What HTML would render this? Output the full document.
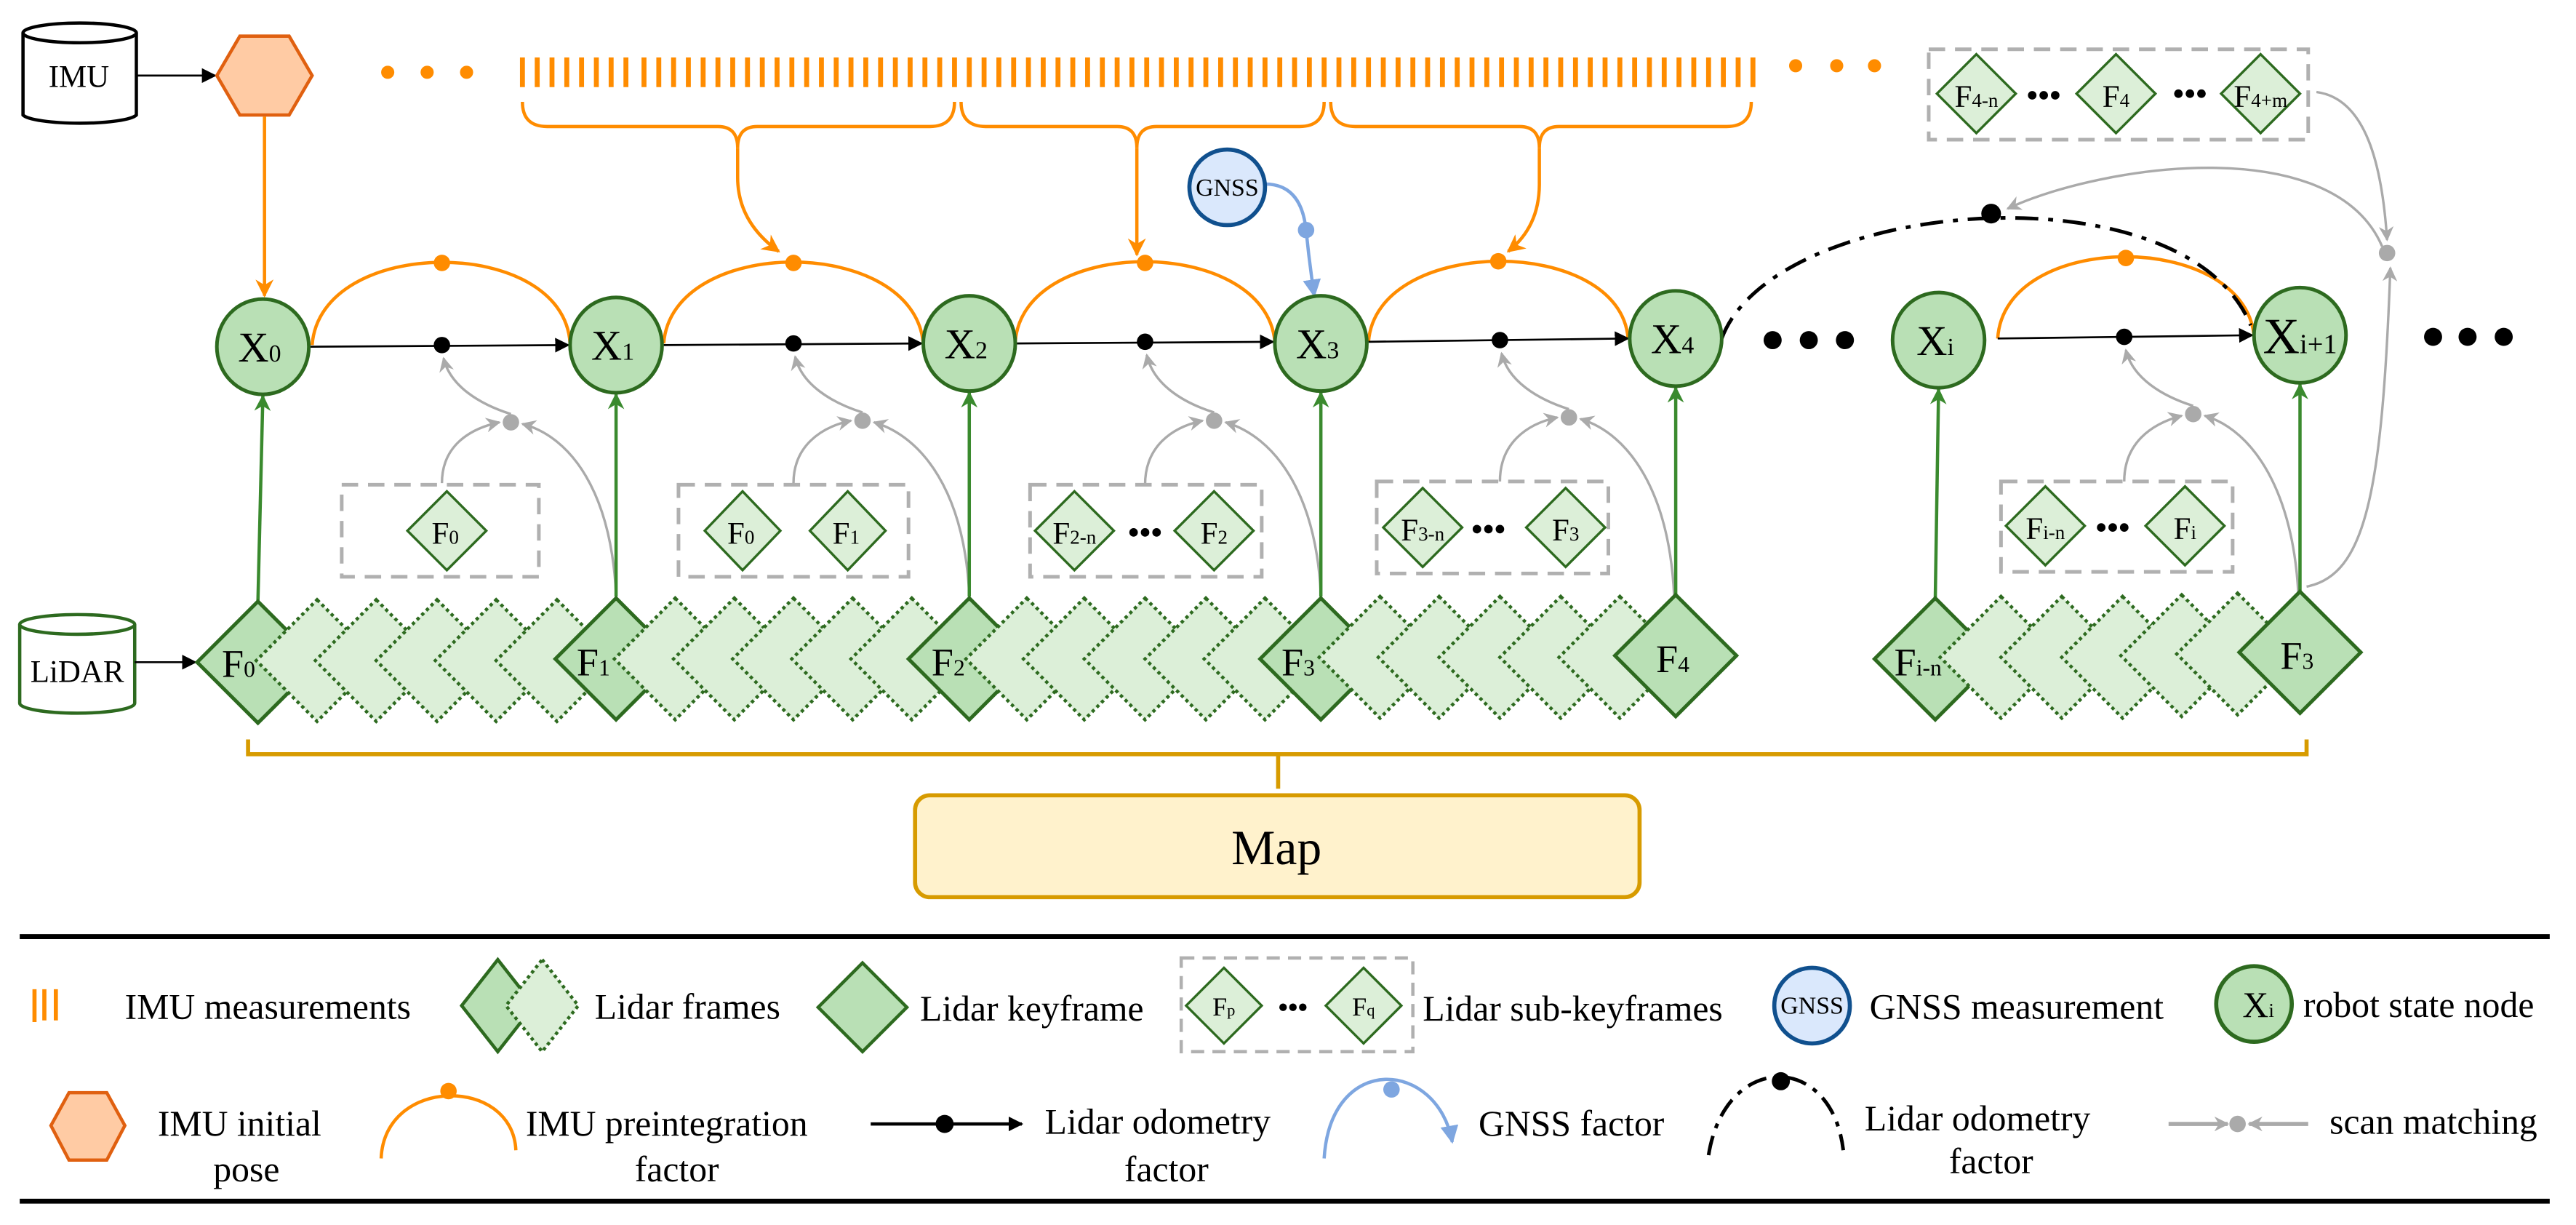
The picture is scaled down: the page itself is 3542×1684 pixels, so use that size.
<!DOCTYPE html>
<html><head><meta charset="utf-8"><style>
html,body{margin:0;padding:0;background:#fff;}
svg{display:block;}
svg text{font-family:"Liberation Serif","DejaVu Serif",serif !important;fill:#000;}
</style></head><body>
<svg width="3542" height="1684" viewBox="0 0 1568 745.5" preserveAspectRatio="none" xmlns="http://www.w3.org/2000/svg" font-family="Liberation Serif, DejaVu Serif, serif">
<defs>
<marker id="ab" viewBox="0 0 10 10" refX="9" refY="5" markerWidth="9" markerHeight="9" markerUnits="userSpaceOnUse" orient="auto"><path d="M0,0 L10,5 L0,10 z" fill="#000"/></marker>
<marker id="ag" viewBox="0 0 10 10" refX="9" refY="5" markerWidth="9" markerHeight="9" markerUnits="userSpaceOnUse" orient="auto"><path d="M0,0 L10,5 L0,10 L3,5 z" fill="#aaa"/></marker>
<marker id="agr" viewBox="0 0 10 10" refX="9" refY="5" markerWidth="10" markerHeight="10" markerUnits="userSpaceOnUse" orient="auto"><path d="M0,0 L10,5 L0,10 L3,5 z" fill="#3a8a2e"/></marker>
<marker id="ao" viewBox="0 0 10 10" refX="9" refY="5" markerWidth="11" markerHeight="11" markerUnits="userSpaceOnUse" orient="auto"><path d="M0,0 L10,5 L0,10 L3,5 z" fill="#ff8c00"/></marker>
<marker id="abl" viewBox="0 0 10 10" refX="9" refY="5" markerWidth="11" markerHeight="11" markerUnits="userSpaceOnUse" orient="auto"><path d="M0,0 L10,5 L0,10 z" fill="#7ea6e0"/></marker>
</defs>

<path d="M14,20 L14,70 A35,6 0 0 0 83,70 L83,20" fill="#fff" stroke="#000" stroke-width="2"/>
<ellipse cx="48.5" cy="20" rx="34.5" ry="6" fill="#fff" stroke="#000" stroke-width="2"/>
<text x="48" y="53" font-size="19" text-anchor="middle">IMU</text>
<line x1="83" y1="46" x2="131" y2="46" stroke="#000" stroke-width="1.2" marker-end="url(#ab)"/>
<polygon points="132,46 146,22 176,22 190,46 176,70 146,70" fill="#ffcba4" stroke="#e06010" stroke-width="2"/>
<line x1="161" y1="71" x2="161" y2="180" stroke="#ff8c00" stroke-width="2" marker-end="url(#ao)"/>

<g fill="#ff8c00"><circle cx="236" cy="44" r="4"/><circle cx="260" cy="44" r="4"/><circle cx="284" cy="44" r="4"/>
<circle cx="1093" cy="40" r="4"/><circle cx="1118" cy="40" r="4"/><circle cx="1141" cy="40" r="4"/></g>
<g stroke="#ff8c00" stroke-width="3">
<path d="M318,35v18M327,35v18M336,35v18M345,35v18M354,35v18M363,35v18M372,35v18M381,35v18M392,35v18M401,35v18M410,35v18M419,35v18M428,35v18M437,35v18M446,35v18M455,35v18M464,35v18M473,35v18M482,35v18M491,35v18M500,35v18M509,35v18M518,35v18M527,35v18M536,35v18M545,35v18M554,35v18M563,35v18M572,35v18M581,35v18M590,35v18M599,35v18M608,35v18M617,35v18M626,35v18M635,35v18M644,35v18M653,35v18M662,35v18M671,35v18M680,35v18M689,35v18M698,35v18M707,35v18M716,35v18M725,35v18M734,35v18M743,35v18M752,35v18M761,35v18M770,35v18M779,35v18M788,35v18M797,35v18M806,35v18M815,35v18M824,35v18M833,35v18M842,35v18M851,35v18M860,35v18M869,35v18M878,35v18M887,35v18M896,35v18M905,35v18M914,35v18M923,35v18M932,35v18M941,35v18M950,35v18M959,35v18M968,35v18M977,35v18M986,35v18M995,35v18M1004,35v18M1013,35v18M1022,35v18M1031,35v18M1040,35v18M1049,35v18M1058,35v18M1067,35v18"/>
</g>
<g fill="none" stroke="#ff8c00" stroke-width="2">
<path d="M318,62 Q318,77 333,77 L437,77 Q449,77 449,90 Q449,77 461,77 L566,77 Q581,77 581,62"/>
<path d="M449,90 L449,108 Q449,135 474,153" marker-end="url(#ao)"/>
<path d="M585,62 Q585,77 600,77 L680,77 Q692,77 692,90 Q692,77 704,77 L791,77 Q806,77 806,62"/>
<path d="M692,90 L692,155" marker-end="url(#ao)"/>
<path d="M810,62 Q810,77 825,77 L925,77 Q937,77 937,90 Q937,77 949,77 L1051,77 Q1066,77 1066,62"/>
<path d="M937,90 L937,112 Q937,138 918,153" marker-end="url(#ao)"/>
</g>

<path d="M770,112 Q792,112 795,140 Q797,160 800,180" fill="none" stroke="#7ea6e0" stroke-width="2" marker-end="url(#abl)"/>
<circle cx="795" cy="140" r="5" fill="#7ea6e0"/>
<circle cx="747" cy="114" r="23" fill="#dae8fc" stroke="#10508e" stroke-width="2.5"/>
<text x="747" y="119" font-size="15" text-anchor="middle">GNSS</text>

<g fill="none" stroke="#ff8c00" stroke-width="2">
<path d="M190,210 C195,143 343,143 347,209"/>
<path d="M404,209 C409,143 556,143 562,209"/>
<path d="M618,208 C623,143 770,143 776,208"/>
<path d="M833,208 C838,143 986,143 991,206"/>
<path d="M1216,206 C1220,140 1365,140 1372,204"/>
</g>
<g fill="#ff8c00"><circle cx="269" cy="160" r="5"/><circle cx="483" cy="160" r="5"/><circle cx="697" cy="160" r="5"/><circle cx="912" cy="159" r="5"/><circle cx="1294" cy="157" r="5"/></g>

<path d="M1048,206 C1080,120 1330,100 1370,198" fill="none" stroke="#000" stroke-width="2.2" stroke-dasharray="14,6,3,6"/>
<circle cx="1212" cy="130" r="6" fill="#000"/>

<g stroke="#000" stroke-width="1.2" marker-end="url(#ab)">
<line x1="189" y1="211" x2="346" y2="210"/>
<line x1="404" y1="210" x2="561" y2="209"/>
<line x1="619" y1="209" x2="775" y2="208"/>
<line x1="833" y1="208" x2="991" y2="206"/>
<line x1="1216" y1="206" x2="1371" y2="204"/>
</g>
<g fill="#000"><circle cx="269" cy="210" r="5"/><circle cx="483" cy="209" r="5"/><circle cx="697" cy="208" r="5"/><circle cx="913" cy="207" r="5"/><circle cx="1293" cy="205" r="5"/></g>

<g fill="#000"><circle cx="1079" cy="207" r="5.5"/><circle cx="1101" cy="207" r="5.5"/><circle cx="1123" cy="207" r="5.5"/>
<circle cx="1481" cy="205" r="5.5"/><circle cx="1502" cy="205" r="5.5"/><circle cx="1524" cy="205" r="5.5"/></g>

<g fill="none" stroke="#aaa" stroke-width="1.5" marker-end="url(#ag)">
<path d="M311,252 C292,246 274,235 270,218"/>
<path d="M269,294 C269,272 285,261 304,257"/>
<path d="M375,362 C372,300 348,266 318,258"/>
<path d="M525,251 C506,245 488,234 484,217"/>
<path d="M483,294 C483,272 499,260 518,256"/>
<path d="M590,362 C587,300 562,266 532,257"/>
<path d="M739,251 C720,245 702,234 698,216"/>
<path d="M697,295 C697,272 713,260 732,256"/>
<path d="M804,362 C801,300 776,266 746,257"/>
<path d="M955,249 C936,243 918,232 914,215"/>
<path d="M913,293 C913,270 929,258 948,254"/>
<path d="M1019,362 C1016,300 992,264 962,255"/>
<path d="M1335,247 C1316,241 1298,230 1294,213"/>
<path d="M1293,293 C1293,270 1309,258 1328,253"/>
<path d="M1399,362 C1396,300 1372,262 1342,253"/>
<path d="M1410,56 C1440,60 1450,100 1453,146"/>
<path d="M1404,357 C1440,350 1450,300 1455,163"/>
<path d="M1450,150 C1420,80 1280,100 1222,127"/>
</g>
<g fill="#aaa"><circle cx="311" cy="257" r="5"/><circle cx="525" cy="256" r="5"/><circle cx="739" cy="256" r="5"/><circle cx="955" cy="254" r="5"/><circle cx="1335" cy="252" r="5"/><circle cx="1453" cy="154" r="5"/></g>

<g stroke="#3a8a2e" stroke-width="2" marker-end="url(#agr)">
<line x1="157" y1="366" x2="160" y2="241"/>
<line x1="375" y1="363" x2="375" y2="240"/>
<line x1="590" y1="363" x2="590" y2="239"/>
<line x1="804" y1="363" x2="804" y2="239"/>
<line x1="1020" y1="362" x2="1020" y2="236"/>
<line x1="1178" y1="364" x2="1180" y2="237"/>
<line x1="1400" y1="360" x2="1400" y2="234"/>
</g>

<g fill="#b9e0b5" stroke="#2d6a1f" stroke-width="2.2">
<ellipse cx="160" cy="211" rx="28" ry="29"/><ellipse cx="375" cy="210" rx="28" ry="29"/><ellipse cx="590" cy="209" rx="28" ry="29"/>
<ellipse cx="804" cy="209" rx="28" ry="29"/><ellipse cx="1020" cy="206" rx="28" ry="29"/><ellipse cx="1180" cy="207" rx="28" ry="29"/><ellipse cx="1400" cy="204" rx="28" ry="29"/>
</g>
<g font-size="26" text-anchor="middle">
<text x="158" y="220">X<tspan font-size="15">0</tspan></text>
<text x="373" y="219">X<tspan font-size="15">1</tspan></text>
<text x="588" y="218">X<tspan font-size="15">2</tspan></text>
<text x="802" y="218">X<tspan font-size="15">3</tspan></text>
<text x="1018" y="215">X<tspan font-size="15">4</tspan></text>
<text x="1178" y="216">X<tspan font-size="15">i</tspan></text>
<text x="1400" y="215" font-size="31">X<tspan font-size="17">i+1</tspan></text>
</g>

<g fill="none" stroke="#b0b0b0" stroke-width="2.2" stroke-dasharray="10,6">
<rect x="208" y="295" width="120" height="56"/>
<rect x="413" y="295" width="140" height="56"/>
<rect x="627" y="295" width="141" height="56"/>
<rect x="838" y="293" width="141" height="56"/>
<rect x="1218" y="293" width="141" height="55"/>
<rect x="1174" y="30" width="231" height="55"/>
</g>
<g fill="#dcefd8" stroke="#2d6a1f" stroke-width="1.5">
<path d="M272,299 l24,24 l-24,24 l-24,-24z"/>
<path d="M452,299 l23,24 l-23,24 l-23,-24z"/><path d="M516,299 l23,24 l-23,24 l-23,-24z"/>
<path d="M654,299 l24,24 l-24,24 l-24,-24z"/><path d="M739,299 l24,24 l-24,24 l-24,-24z"/>
<path d="M866,297 l24,24 l-24,24 l-24,-24z"/><path d="M953,297 l24,24 l-24,24 l-24,-24z"/>
<path d="M1245,296 l24,24 l-24,24 l-24,-24z"/><path d="M1330,296 l24,24 l-24,24 l-24,-24z"/>
<path d="M1203,33 l24,24 l-24,24 l-24,-24z"/><path d="M1288,33 l24,24 l-24,24 l-24,-24z"/><path d="M1376,33 l24,24 l-24,24 l-24,-24z"/>
</g>
<g font-size="19" text-anchor="middle">
<text x="271" y="331">F<tspan font-size="12">0</tspan></text>
<text x="451" y="331">F<tspan font-size="12">0</tspan></text>
<text x="515" y="331">F<tspan font-size="12">1</tspan></text>
<text x="654" y="331">F<tspan font-size="12">2-n</tspan></text>
<text x="739" y="331">F<tspan font-size="12">2</tspan></text>
<text x="866" y="329">F<tspan font-size="12">3-n</tspan></text>
<text x="953" y="329">F<tspan font-size="12">3</tspan></text>
<text x="1245" y="328">F<tspan font-size="12">i-n</tspan></text>
<text x="1330" y="328">F<tspan font-size="12">i</tspan></text>
<text x="1203" y="65">F<tspan font-size="12">4-n</tspan></text>
<text x="1288" y="65">F<tspan font-size="12">4</tspan></text>
<text x="1376" y="65">F<tspan font-size="12">4+m</tspan></text>
</g>
<g fill="#000">
<circle cx="690" cy="324" r="2.6"/><circle cx="697" cy="324" r="2.6"/><circle cx="704" cy="324" r="2.6"/>
<circle cx="899" cy="322" r="2.6"/><circle cx="906" cy="322" r="2.6"/><circle cx="913" cy="322" r="2.6"/>
<circle cx="1279" cy="321" r="2.6"/><circle cx="1286" cy="321" r="2.6"/><circle cx="1293" cy="321" r="2.6"/>
<circle cx="1237" cy="58" r="2.6"/><circle cx="1244" cy="58" r="2.6"/><circle cx="1251" cy="58" r="2.6"/>
<circle cx="1326" cy="57" r="2.6"/><circle cx="1333" cy="57" r="2.6"/><circle cx="1340" cy="57" r="2.6"/>
</g>

<path d="M12,380 L12,428 A35,6 0 0 0 82,428 L82,380" fill="#fff" stroke="#2d6a1f" stroke-width="2"/>
<ellipse cx="47" cy="380" rx="35" ry="6" fill="#fff" stroke="#2d6a1f" stroke-width="2"/>
<text x="47" y="415" font-size="19" text-anchor="middle">LiDAR</text>
<line x1="82" y1="403" x2="119" y2="403" stroke="#000" stroke-width="1.2" marker-end="url(#ab)"/>

<g stroke="#2d6a1f">
<g fill="#b9e0b5" stroke-width="2.2"><path d="M157,366 l37,37 l-37,37 l-37,-37z"/></g>
<g fill="#dcefd8" stroke-width="2" stroke-dasharray="2,2">
<path d="M193,365 l37,37 l-37,37 l-37,-37z"/><path d="M229,365 l37,37 l-37,37 l-37,-37z"/><path d="M266,365 l37,37 l-37,37 l-37,-37z"/><path d="M302,365 l37,37 l-37,37 l-37,-37z"/><path d="M339,365 l37,37 l-37,37 l-37,-37z"/>
</g>
<g fill="#b9e0b5" stroke-width="2.2"><path d="M375,364 l37,37 l-37,37 l-37,-37z"/></g>
<g fill="#dcefd8" stroke-width="2" stroke-dasharray="2,2">
<path d="M411,364 l37,37 l-37,37 l-37,-37z"/><path d="M447,364 l37,37 l-37,37 l-37,-37z"/><path d="M483,364 l37,37 l-37,37 l-37,-37z"/><path d="M519,364 l37,37 l-37,37 l-37,-37z"/><path d="M555,364 l37,37 l-37,37 l-37,-37z"/>
</g>
<g fill="#b9e0b5" stroke-width="2.2"><path d="M590,364 l37,37 l-37,37 l-37,-37z"/></g>
<g fill="#dcefd8" stroke-width="2" stroke-dasharray="2,2">
<path d="M625,364 l37,37 l-37,37 l-37,-37z"/><path d="M660,364 l37,37 l-37,37 l-37,-37z"/><path d="M697,364 l37,37 l-37,37 l-37,-37z"/><path d="M734,364 l37,37 l-37,37 l-37,-37z"/><path d="M770,364 l37,37 l-37,37 l-37,-37z"/>
</g>
<g fill="#b9e0b5" stroke-width="2.2"><path d="M804,364 l37,37 l-37,37 l-37,-37z"/></g>
<g fill="#dcefd8" stroke-width="2" stroke-dasharray="2,2">
<path d="M840,363 l37,37 l-37,37 l-37,-37z"/><path d="M876,363 l37,37 l-37,37 l-37,-37z"/><path d="M913,363 l37,37 l-37,37 l-37,-37z"/><path d="M950,363 l37,37 l-37,37 l-37,-37z"/><path d="M986,363 l37,37 l-37,37 l-37,-37z"/>
</g>
<g fill="#b9e0b5" stroke-width="2.2"><path d="M1020,362 l37,37 l-37,37 l-37,-37z"/></g>
<g fill="#b9e0b5" stroke-width="2.2"><path d="M1178,364 l37,37 l-37,37 l-37,-37z"/></g>
<g fill="#dcefd8" stroke-width="2" stroke-dasharray="2,2">
<path d="M1218,363 l37,37 l-37,37 l-37,-37z"/><path d="M1255,363 l37,37 l-37,37 l-37,-37z"/><path d="M1292,363 l37,37 l-37,37 l-37,-37z"/><path d="M1328,362 l37,37 l-37,37 l-37,-37z"/><path d="M1362,361 l37,37 l-37,37 l-37,-37z"/>
</g>
<g fill="#b9e0b5" stroke-width="2.2"><path d="M1400,360 l37,37 l-37,37 l-37,-37z"/></g>
</g>
<g font-size="24">
<text x="135" y="412">F<tspan font-size="14">0</tspan></text>
<text x="351" y="411">F<tspan font-size="14">1</tspan></text>
<text x="567" y="411">F<tspan font-size="14">2</tspan></text>
<text x="780" y="411">F<tspan font-size="14">3</tspan></text>
<text x="1008" y="409">F<tspan font-size="14">4</tspan></text>
<text x="1153" y="411">F<tspan font-size="14">i-n</tspan></text>
<text x="1388" y="407">F<tspan font-size="14">3</tspan></text>
</g>

<path d="M151,450 L151,459 L1404,459 L1404,450 M778,459 L778,480" fill="none" stroke="#d79b00" stroke-width="2.5"/>
<rect x="557" y="484" width="441" height="62" rx="9" fill="#fff2cc" stroke="#d79b00" stroke-width="2.5"/>
<text x="777" y="526" font-size="30" text-anchor="middle">Map</text>

<line x1="12" y1="570" x2="1552" y2="570" stroke="#000" stroke-width="3"/>
<line x1="12" y1="731" x2="1552" y2="731" stroke="#000" stroke-width="3"/>
<g font-size="22">
<g stroke="#ff8c00" stroke-width="2.5"><line x1="21" y1="602" x2="21" y2="622"/><line x1="27" y1="602" x2="27" y2="621"/><line x1="34" y1="602" x2="34" y2="621"/></g>
<text x="76" y="620">IMU measurements</text>
<path d="M303,584 l22,28 l-22,28 l-22,-28z" fill="#b9e0b5" stroke="#2d6a1f" stroke-width="2"/>
<path d="M330,584 l22,28 l-22,28 l-22,-28z" fill="#dcefd8" stroke="#2d6a1f" stroke-width="2" stroke-dasharray="2,2"/>
<text x="362" y="620">Lidar frames</text>
<path d="M525,586 l27,27 l-27,27 l-27,-27z" fill="#b9e0b5" stroke="#2d6a1f" stroke-width="2"/>
<text x="560" y="621">Lidar keyframe</text>
<rect x="719" y="583" width="141" height="57" fill="none" stroke="#b0b0b0" stroke-width="2" stroke-dasharray="8,5"/>
<path d="M745,589 l23,23 l-23,23 l-23,-23z" fill="#dcefd8" stroke="#2d6a1f" stroke-width="1.5"/>
<path d="M830,589 l23,23 l-23,23 l-23,-23z" fill="#dcefd8" stroke="#2d6a1f" stroke-width="1.5"/>
<text x="738" y="618" font-size="16">F<tspan font-size="10">p</tspan></text>
<text x="823" y="618" font-size="16">F<tspan font-size="10">q</tspan></text>
<g fill="#000"><circle cx="781" cy="613" r="2.3"/><circle cx="787" cy="613" r="2.3"/><circle cx="793" cy="613" r="2.3"/></g>
<text x="866" y="621">Lidar sub-keyframes</text>
<circle cx="1103" cy="612" r="23" fill="#dae8fc" stroke="#10508e" stroke-width="2.5"/>
<text x="1103" y="617" font-size="15" text-anchor="middle">GNSS</text>
<text x="1138" y="620">GNSS measurement</text>
<circle cx="1372" cy="611" r="23" fill="#b9e0b5" stroke="#2d6a1f" stroke-width="2.5"/>
<text x="1365" y="619" font-size="22">X<tspan font-size="12">i</tspan></text>
<text x="1402" y="619">robot state node</text>

<polygon points="31,685 42,665 65,665 76,685 65,706 42,706" fill="#ffcba4" stroke="#e06010" stroke-width="2"/>
<text x="96" y="691">IMU initial</text>
<text x="150" y="719" text-anchor="middle">pose</text>
<path d="M232,705 C234,655 312,655 314,700" fill="none" stroke="#ff8c00" stroke-width="2"/>
<circle cx="273" cy="664" r="5" fill="#ff8c00"/>
<text x="320" y="691">IMU preintegration</text>
<text x="412" y="719" text-anchor="middle">factor</text>
<line x1="530" y1="684" x2="622" y2="684" stroke="#000" stroke-width="2" marker-end="url(#ab)"/>
<circle cx="575" cy="684" r="5.5" fill="#000"/>
<text x="636" y="690">Lidar odometry</text>
<text x="710" y="719" text-anchor="middle">factor</text>
<path d="M806,705 C810,640 875,645 884,695" fill="none" stroke="#7ea6e0" stroke-width="2" marker-end="url(#abl)"/>
<circle cx="847" cy="663" r="5" fill="#7ea6e0"/>
<text x="900" y="691">GNSS factor</text>
<path d="M1040,703 C1050,640 1115,640 1122,700" fill="none" stroke="#000" stroke-width="2.2" stroke-dasharray="12,5,3,5"/>
<circle cx="1084" cy="658" r="5.5" fill="#000"/>
<text x="1135" y="688">Lidar odometry</text>
<text x="1212" y="714" text-anchor="middle">factor</text>
<line x1="1320" y1="684" x2="1356" y2="684" stroke="#aaa" stroke-width="2.5" marker-end="url(#ag)"/>
<line x1="1405" y1="684" x2="1369" y2="684" stroke="#aaa" stroke-width="2.5" marker-end="url(#ag)"/>
<circle cx="1362" cy="684" r="5" fill="#aaa"/>
<text x="1418" y="690">scan matching</text>
</g>
</svg>
</body></html>
